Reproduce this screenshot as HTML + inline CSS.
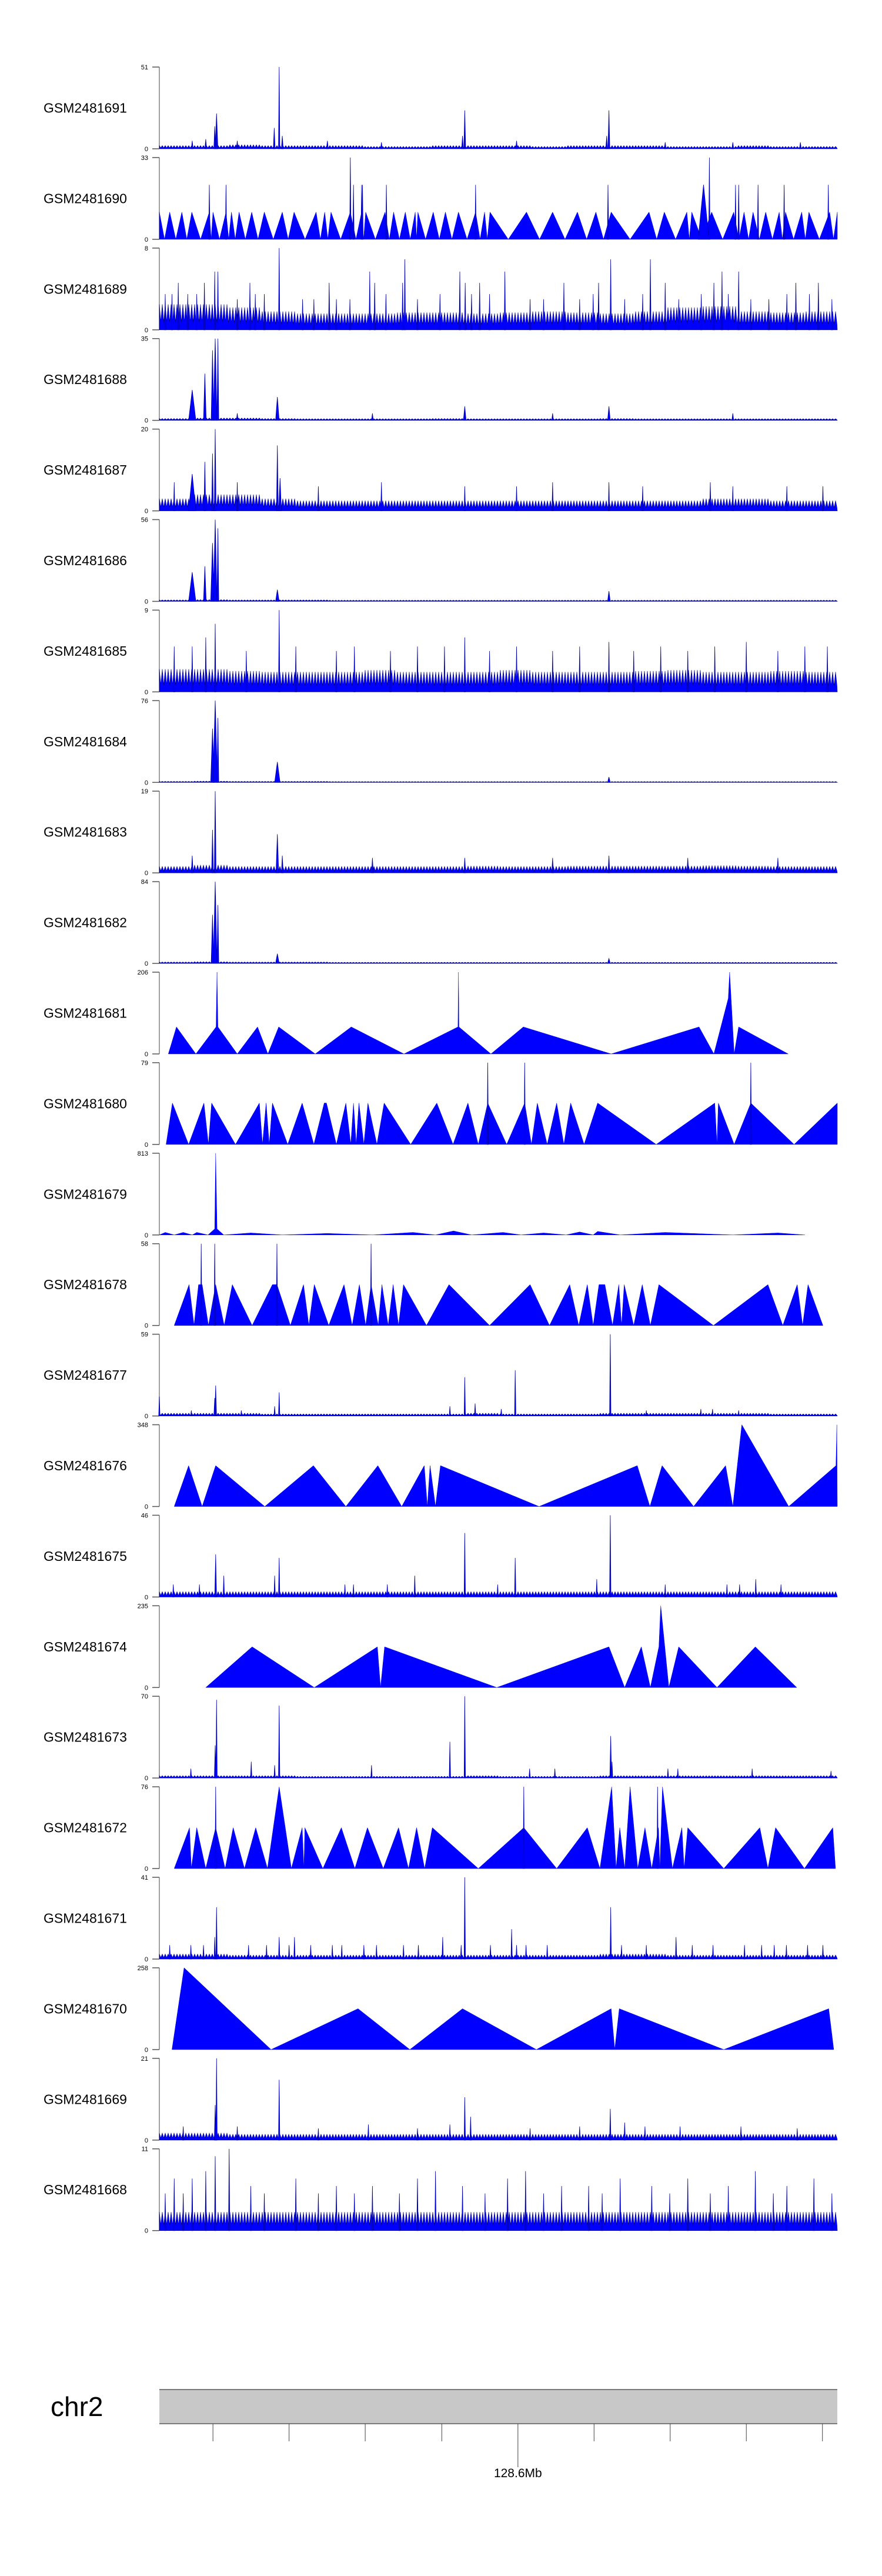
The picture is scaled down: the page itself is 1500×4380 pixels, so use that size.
<!DOCTYPE html>
<html><head><meta charset="utf-8"><title>chr2 coverage tracks</title>
<style>
html,body{margin:0;padding:0;background:#fff;}
svg{display:block;font-family:"Liberation Sans",Arial,sans-serif;}
</style></head>
<body>
<svg id="chart" width="1500" height="4380" viewBox="0 0 1500 4380" xmlns="http://www.w3.org/2000/svg">
<rect x="0" y="0" width="1500" height="4380" fill="#fff"/>
<g id="tracks"></g>
<g id="ideogram"></g>
</svg>
<script>
// ---- data (positions in plot-domain units 27..1532, values in track units) ----
const trackNames=["GSM2481691","GSM2481690","GSM2481689","GSM2481688","GSM2481687","GSM2481686","GSM2481685","GSM2481684","GSM2481683","GSM2481682","GSM2481681","GSM2481680","GSM2481679","GSM2481678","GSM2481677","GSM2481676","GSM2481675","GSM2481674","GSM2481673","GSM2481672","GSM2481671","GSM2481670","GSM2481669","GSM2481668"];
const trackMax=[51,33,8,35,20,56,9,76,19,84,206,79,813,58,59,348,46,235,70,76,41,258,21,11];

// level arrays: 20 bins across the region
const lv691=[2,2,2.5,2,2,2,1.5,1.5,2,2,2,1.5,2,2,2,1.5,1.5,2,1.5,1.5];
const lv689=[2.5,2.5,2.2,1.8,1.6,1.6,1.6,1.7,1.7,1.6,1.7,1.8,1.7,1.6,1.8,2.2,2.3,1.8,1.7,1.8];
const lv688=[0.8,1,1,0.8,0.7,0.7,0.7,0.7,0.8,0.7,0.7,0.7,0.7,0.8,0.7,0.7,0.7,0.7,0.7,0.7];
const lv687=[3,4,4,3,2.5,2.5,2.5,2.5,2.5,2.5,2.5,2.5,2.5,2.5,2.5,2.5,3,3,2.5,2.5];
const lv686=[1,1.2,1,1,1,0.8,0.8,0.8,0.8,0.8,0.8,0.8,0.8,0.8,0.8,0.8,0.8,0.8,0.8,0.8];
const lv685=[2.5,2.5,2.3,2.2,2.2,2.2,2.4,2.2,2.2,2.2,2.4,2.2,2.2,2.2,2.3,2.4,2.2,2.2,2.3,2.2];
const lv684=[1,1.2,1,1,1,0.8,0.8,0.8,0.8,0.8,0.8,0.8,0.8,0.8,0.8,0.8,0.8,0.8,0.8,0.8];
const lv683=[1.5,1.8,1.5,1.5,1.5,1.5,1.5,1.5,1.5,1.6,1.5,1.5,1.6,1.6,1.6,1.6,1.7,1.6,1.5,1.5];
const lv682=[1.5,1.8,1.5,1.5,1.5,1.2,1.2,1.2,1.2,1.2,1.2,1.2,1.2,1.2,1.2,1.2,1.2,1.2,1.2,1.2];
const lv677=[2,2,2,1.5,1.5,1.5,1.5,1.5,1.5,2,1.5,1.5,1.5,2,2,2,2,2,1.5,1.5];
const lv675=[3,3,3,3,3,3,3,3,3,3,3,3,3,3,3,3,3,3,3,3];
const lv673=[2,2,2,2,1.5,1.5,1.5,1.5,1.5,2,1.5,1.5,1.5,2,2,2,2,2,2,2];
const lv671=[2.5,2.5,2,2,2,2,2,2,2,2,2,2,2,2.5,2.5,2,2,2,2,2];
const lv669=[1.8,1.8,1.5,1.5,1.5,1.5,1.5,1.5,1.5,1.5,1.5,1.5,1.5,1.5,1.5,1.5,1.5,1.5,1.5,1.5];
const lv668=[2.5,2.5,2.5,2.5,2.5,2.5,2.5,2.5,2.5,2.5,2.5,2.5,2.5,2.5,2.5,2.5,2.5,2.5,2.5,2.5];

// spikes: [position, value, half-width]
const sp691=[[154,22,3],[150,14,2],[100,5,2],[130,6,2],[200,5,2],[282,13,2],[293,51,1.5],[300,8,2],[400,5,2],[520,4,2],[705,24,2],[700,8,2],[820,5,2],[1025,24,2],[1020,8,2],[1150,4,2],[1300,4,2],[1450,4,2]];
const sp689=[[293,8,1.5],[572,6.9,1.5],[1029,6.9,1.5],[1117,6.9,1.5],[150,5.7,1.5],[157,5.7,1.5],[494,5.7,1.5],[694,5.7,1.5],[794,5.7,1.5],[1276,5.7,1.5],[1313,5.7,1.5],[69,4.6,1.5],[127,4.6,1.5],[228,4.6,1.5],[404,4.6,1.5],[505,4.6,1.5],[567,4.6,1.5],[706,4.6,1.5],[738,4.6,1.5],[925,4.6,1.5],[1002,4.6,1.5],[1150,4.6,1.5],[1258,4.6,1.5],[1440,4.6,1.5],[1490,4.6,1.5],[40,3.5,1.5],[55,3.5,1.5],[90,3.5,1.5],[110,3.5,1.5],[200,3,1.5],[240,3.5,1.5],[260,3.5,1.5],[345,3,1.5],[370,3,1.5],[420,3,1.5],[450,3,1.5],[530,3.5,1.5],[600,3,1.5],[650,3.5,1.5],[720,3.5,1.5],[760,3.5,1.5],[850,3,1.5],[880,3,1.5],[960,3,1.5],[990,3.5,1.5],[1060,3,1.5],[1100,3.5,1.5],[1180,3,1.5],[1230,3.5,1.5],[1290,3.5,1.5],[1340,3,1.5],[1380,3,1.5],[1420,3.5,1.5],[1470,3.5,1.5],[1520,3,1.5]];
const sp688=[[100,13,8],[128,20,3],[145,30,3],[151,35,4],[157,35,2],[289,10,4],[705,6,3],[1025,6,3],[200,3,2],[500,3,2],[900,3,2],[1300,3,2]];
const sp687=[[100,9,8],[128,12,2],[151,20,2],[145,14,2],[289,16,2],[295,8,3],[60,7,1.5],[200,7,1.5],[380,6,1.5],[520,7,1.5],[705,6,1.5],[820,6,1.5],[900,7,1.5],[1025,7,1.5],[1100,6,1.5],[1250,7,1.5],[1300,6,1.5],[1420,6,1.5],[1500,6,1.5]];
const sp686=[[100,20,8],[128,24,3],[145,40,4],[151,56,4],[157,50,2],[289,8,4],[1025,7,3]];
const sp685=[[151,7.5,1.5],[293,9,1.5],[60,5,1.5],[100,5,1.5],[130,6,1.5],[220,4.5,1.5],[330,5,1.5],[420,4.5,1.5],[460,5,1.5],[540,4.5,1.5],[600,5,1.5],[660,5,1.5],[705,6,1.5],[760,4.5,1.5],[820,5,1.5],[900,4.5,1.5],[960,5,1.5],[1025,5.5,1.5],[1080,4.5,1.5],[1140,5,1.5],[1200,4.5,1.5],[1260,5,1.5],[1330,5.5,1.5],[1400,4.5,1.5],[1460,5,1.5],[1510,5,1.5]];
const sp684=[[145,50,4],[151,76,5],[157,60,2],[289,19,6],[1025,5,3]];
const sp683=[[145,10,2],[151,19,2],[289,9,3],[100,4,2],[300,4,2],[500,3.5,2],[705,3.5,2],[900,3.5,2],[1025,4,2],[1200,3.5,2],[1400,3.5,2]];
const sp682=[[145,50,3],[151,84,4],[157,60,2],[289,10,4],[1025,5,3]];
const sp677=[[27,14,1.5],[152,22,2],[150,13,2],[293,17,1.5],[283,7,1.5],[672,7,1.5],[705,28,1.5],[728,9,1.5],[786,5,1.5],[817,33,1.5],[1028,59,1.5],[1108,4,1.5],[1229,5,1.5],[1255,5,1.5],[1313,4,1.5],[98,4,1.5],[209,4,1.5]];
const sp675=[[152,24,2],[170,12,1.5],[283,12,1.5],[293,22,1.5],[594,12,1.5],[705,36,1.5],[817,22,1.5],[998,10,1.5],[1028,46,1.5],[1351,10,1.5],[58,7,1.5],[116,7,1.5],[439,7,1.5],[458,7,1.5],[533,7,1.5],[778,7,1.5],[1150,7,1.5],[1287,7,1.5],[1315,7,1.5],[1407,7,1.5]];
const sp673=[[154,67,1.5],[151,28,2],[293,62,1.5],[231,14,1.5],[672,31,1.5],[705,70,1.5],[1029,36,2],[1032,14,1.5],[498,11,1.5],[283,11,1.5],[97,8,1.5],[849,8,1.5],[905,8,1.5],[1156,8,1.5],[1178,8,1.5],[1343,8,1.5],[1518,6,1.5]];
const sp671=[[154,26,1.5],[150,11,1.5],[705,41,1.5],[809,15,1.5],[1029,26,1.5],[656,11,1.5],[293,11,1.5],[327,11,1.5],[1174,11,1.5],[50,7,1.5],[97,7,1.5],[125,7,1.5],[225,7,1.5],[265,7,1.5],[315,7,1.5],[363,7,1.5],[411,7,1.5],[432,7,1.5],[481,7,1.5],[509,7,1.5],[569,7,1.5],[602,7,1.5],[697,7,1.5],[762,7,1.5],[820,7,1.5],[841,7,1.5],[888,7,1.5],[1053,7,1.5],[1108,7,1.5],[1210,7,1.5],[1256,7,1.5],[1326,7,1.5],[1364,7,1.5],[1392,7,1.5],[1419,7,1.5],[1466,7,1.5],[1500,7,1.5]];
const sp669=[[154,21,1.5],[151,9,2],[293,15.5,1.5],[705,11,1.5],[718,6,1.5],[1028,8,1.5],[1060,4.5,1.5],[672,4,1.5],[491,4,1.5],[80,3.5,1.5],[200,3.5,1.5],[380,3,1.5],[600,3,1.5],[850,3,1.5],[960,3.5,1.5],[1105,3.5,1.5],[1183,3.5,1.5],[1318,3.5,1.5],[1443,3,1.5]];
const sp668=[[151,10,1.5],[182,11,1.5],[60,7,1.5],[100,7,1.5],[130,8,1.5],[230,6,1.5],[330,7,1.5],[420,6,1.5],[500,6,1.5],[600,7,1.5],[640,8,1.5],[700,6,1.5],[800,7,1.5],[840,8,1.5],[920,6,1.5],[980,6,1.5],[1050,7,1.5],[1120,6,1.5],[1200,7,1.5],[1290,6,1.5],[1350,8,1.5],[1420,6,1.5],[1480,7,1.5],[40,5,1.5],[80,5,1.5],[260,5,1.5],[380,5,1.5],[460,5,1.5],[560,5,1.5],[750,5,1.5],[880,5,1.5],[1010,5,1.5],[1160,5,1.5],[1250,5,1.5],[1390,5,1.5],[1520,5,1.5]];

// triangle-style tracks: vertex lists [position, value]
const apex690=[27,50,77,99,138,146,175,187,204,232,260,300,326,375,394,408,451,476,485,528,547,573,595,601,635,662,691,729,749,761,842,900,955,996,1030,1114,1148,1198,1209,1253,1302,1325,1345,1373,1403,1417,1453,1469,1515,1532];
const sp690=[[138,22,1.5],[175,22,1.5],[451,33,1.5],[458,22,1.5],[476,22,1.5],[478,22,1.5],[531,22,1.5],[729,22,1.5],[1023,22,1.5],[1235,22,12],[1248,33,1.5],[1306,22,1.5],[1313,22,1.5],[1356,22,1.5],[1414,22,1.5],[1512,22,1.5]];
const vt681=[[47,0],[65,68],[108,0],[153,68],[155,206],[157,68],[200,0],[245,68],[268,0],[292,68],[373,0],[453,68],[570,0],[690,68],[691,206],[692,68],[763,0],[835,68],[1030,0],[1225,68],[1258,0],[1290,140],[1293,206],[1303,0],[1313,68],[1423,0]];
const vt680=[[42,0],[56,40],[92,0],[126,40],[136,0],[143,40],[196,0],[249,40],[256,0],[264,40],[271,0],[278,40],[312,0],[344,40],[370,0],[393,40],[398,40],[420,0],[441,40],[452,0],[458,40],[464,0],[470,40],[481,0],[490,40],[510,0],[526,40],[585,0],[643,40],[679,0],[712,40],[735,0],[756,40],[798,0],[838,40],[853,0],[866,40],[888,0],[909,40],[925,0],[940,40],[970,0],[1000,40],[1130,0],[1260,40],[1265,0],[1268,40],[1303,0],[1340,40],[1436,0],[1532,40],[1532,0]];
const sp680=[[756,79,1.5],[838,79,1.5],[1340,79,1.5]];
const vt679=[[27,0],[40,25],[60,0],[80,25],[100,0],[110,25],[135,0],[150,60],[152,813],[155,60],[170,0],[230,20],[300,0],[400,15],[500,0],[590,25],[640,0],[680,40],[720,0],[790,25],[830,0],[880,20],[930,0],[960,30],[990,0],[1000,35],[1050,0],[1150,25],[1300,0],[1400,20],[1460,0]];
const vt678=[[60,0],[93,29],[104,0],[114,29],[122,29],[136,0],[152,29],[171,0],[189,29],[233,0],[278,29],[288,29],[318,0],[347,29],[359,0],[371,29],[403,0],[437,29],[455,0],[471,29],[485,0],[497,29],[513,0],[521,29],[535,0],[546,29],[558,0],[569,29],[620,0],[670,29],[760,0],[850,29],[893,0],[938,29],[958,0],[977,29],[990,0],[1003,29],[1016,29],[1033,0],[1047,29],[1053,0],[1059,29],[1080,0],[1099,29],[1117,0],[1136,29],[1257,0],[1378,29],[1411,0],[1443,29],[1455,0],[1467,29],[1500,0]];
const sp678=[[120,58,1.5],[150,58,1.5],[288,58,1.5],[497,58,1.5]];
const vt676=[[60,0],[92,174],[122,0],[152,174],[261,0],[369,174],[441,0],[512,174],[565,0],[615,174],[622,0],[628,174],[640,0],[651,174],[870,0],[1088,174],[1116,0],[1143,174],[1213,0],[1284,174],[1300,0],[1320,348],[1424,0],[1529,174],[1531,348],[1532,0]];
const vt674=[[130,0],[233,117],[371,0],[511,117],[518,0],[527,117],[776,0],[1025,117],[1060,0],[1097,117],[1117,0],[1136,117],[1140,235],[1158,0],[1180,117],[1265,0],[1350,117],[1442,0]];
const vt672=[[60,0],[94,38],[98,0],[110,38],[130,0],[152,38],[173,0],[191,38],[216,0],[241,38],[267,0],[293,76],[320,0],[344,38],[348,0],[350,38],[390,0],[431,38],[461,0],[489,38],[524,0],[558,38],[580,0],[598,38],[616,0],[633,38],[735,0],[836,38],[909,0],[977,38],[1005,0],[1031,76],[1041,0],[1049,38],[1060,0],[1072,76],[1089,0],[1105,38],[1120,0],[1135,38],[1138,0],[1144,76],[1166,0],[1187,38],[1192,0],[1200,38],[1280,0],[1360,38],[1378,0],[1395,38],[1459,0],[1522,38],[1528,0]];
const sp672=[[152,76,1.5],[836,76,1.5],[1133,76,1.5]];
const vt670=[[55,0],[82,258],[275,0],[468,129],[583,0],[700,129],[864,0],[1030,129],[1038,0],[1048,129],[1280,0],[1513,129],[1524,0]];

// ideogram ticks (domain positions) and label
const ideoTicks=[146,315,484,654,823,992,1161,1330,1499];
const ideoMajor=823;
const ideoLabel="128.6Mb";

// ---- rendering ----
const NS="http://www.w3.org/2000/svg";
const X0=271,X1=1424,D0=27,D1=1532;
const TOP0=114,PITCH=153.9,H=139;
function sx(p){return X0+(p-D0)*(X1-X0)/(D1-D0);}
function mk(tag,attrs,parent){const e=document.createElementNS(NS,tag);for(const k in attrs)e.setAttribute(k,attrs[k]);parent.appendChild(e);return e;}

function apexToVerts(apex,val){
  const v=[[apex[0],0]];
  for(let k=0;k<apex.length;k++){
    if(k>0)v.push([(apex[k-1]+apex[k])/2,0]);
    v.push([apex[k],val]);
  }
  v.push([apex[apex.length-1],0]);
  return v;
}

const trackData=[
 {lv:lv691,sp:sp691},
 {vt:apexToVerts(apex690,11),sp:sp690},
 {lv:lv689,sp:sp689},
 {lv:lv688,sp:sp688},
 {lv:lv687,sp:sp687},
 {lv:lv686,sp:sp686},
 {lv:lv685,sp:sp685},
 {lv:lv684,sp:sp684},
 {lv:lv683,sp:sp683},
 {lv:lv682,sp:sp682},
 {vt:vt681,sp:[]},
 {vt:vt680,sp:sp680},
 {vt:vt679,sp:[]},
 {vt:vt678,sp:sp678},
 {lv:lv677,sp:sp677},
 {vt:vt676,sp:[]},
 {lv:lv675,sp:sp675},
 {vt:vt674,sp:[]},
 {lv:lv673,sp:sp673},
 {vt:vt672,sp:sp672},
 {lv:lv671,sp:sp671},
 {vt:vt670,sp:[]},
 {lv:lv669,sp:sp669},
 {lv:lv668,sp:sp668}
];

const gT=document.getElementById('tracks');
trackNames.forEach((name,i)=>{
  const top=TOP0+PITCH*i, zero=top+H, max=trackMax[i];
  const sy=v=>zero-Math.min(v,max)/max*H;
  const g=mk('g',{},gT);
  
  
  const lab=mk('text',{x:74,y:(top+zero)/2+8,'font-size':23,fill:'#000'},g);
  
  
  lab.textContent=name;
  const ax=mk('line',{x1:X0,y1:top,x2:X0,y2:zero,stroke:'#808080','stroke-width':1.5},g);
  
  
  [top,zero].forEach(yy=>{
    const t=mk('line',{x1:259,y1:yy,x2:X0,y2:yy,stroke:'#555','stroke-width':1.5},g);
    
    
  });
  const tmax=mk('text',{x:252,y:top+4,'font-size':11,'text-anchor':'end',fill:'#000'},g);
  
  
  tmax.textContent=String(max);
  const t0=mk('text',{x:252,y:zero+4,'font-size':11,'text-anchor':'end',fill:'#000'},g);
  
  
  t0.textContent='0';
  const d=trackData[i];
  if(d.lv){
    // level drawn as a fine sawtooth texture (rendering style), heights from level bins
    const n=d.lv.length, w=(D1-D0)/n;
    const pts=[[X0,zero]];
    const step=2.5; let k=0;
    for(let x=X0;x<=X1;x+=step,k++){
      const p=D0+(x-X0)*(D1-D0)/(X1-X0);
      const b=Math.min(n-1,Math.floor((p-D0)/w));
      const v=d.lv[b]*((k%2===0)?1:0.3);
      pts.push([x,sy(v)]);
    }
    pts.push([X1,zero]);
    const p=mk('polygon',{points:pts.map(q=>q[0].toFixed(1)+','+q[1].toFixed(1)).join(' '),fill:'#0000ff',stroke:'#00008b','stroke-width':0.6},g);
    
    
  }
  if(d.vt){
    const pts=d.vt.map(q=>sx(q[0]).toFixed(1)+','+sy(q[1]).toFixed(1));
    const p=mk('polygon',{points:pts.join(' '),fill:'#0000ff',stroke:'#0000ff','stroke-width':0.5},g);
    
    
  }
  d.sp.forEach(s=>{
    const pts=[[sx(s[0]-s[2]),zero],[sx(s[0]),sy(s[1])],[sx(s[0]+s[2]),zero]];
    const p=mk('polygon',{points:pts.map(q=>q[0].toFixed(1)+','+q[1].toFixed(1)).join(' '),fill:'#0000ff',stroke:'#0000aa','stroke-width':0.8},g);
    
    
  });
});

// ideogram
const gI=document.getElementById('ideogram');
const chrLab=mk('text',{x:86,y:4108,'font-size':46,fill:'#000'},gI);


chrLab.textContent='chr2';
const bar=mk('rect',{x:X0,y:4063,width:X1-X0,height:58,fill:'#c8c8c8'},gI);


[4063,4121].forEach(yy=>{
  const l=mk('line',{x1:X0,y1:yy,x2:X1,y2:yy,stroke:'#7a7a7a','stroke-width':2},gI);
  
  
});
ideoTicks.forEach(p=>{
  const major=(p===ideoMajor);
  const l=mk('line',{x1:sx(p),y1:4121,x2:sx(p),y2:major?4195:4151,stroke:'#444','stroke-width':1},gI);
  
  
});
const ml=mk('text',{x:sx(ideoMajor),y:4212,'font-size':21,'text-anchor':'middle',fill:'#000'},gI);


ml.textContent=ideoLabel;
</script>
</body></html>
